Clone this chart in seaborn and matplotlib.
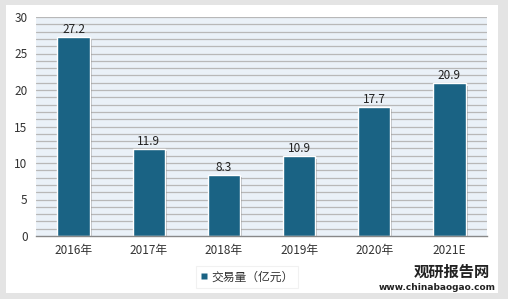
import matplotlib
matplotlib.use("Agg")
import matplotlib.pyplot as plt
import matplotlib.patheffects as pe
from matplotlib.patches import Rectangle
from matplotlib.lines import Line2D
import seaborn as sns
import pandas as pd

years = ["2016年", "2017年", "2018年", "2019年", "2020年", "2021E"]
values = [27.2, 11.9, 8.3, 10.9, 17.7, 20.9]
series_name = "交易量（亿元）"
yticks = [0, 5, 10, 15, 20, 25, 30]

sns.set_theme(style="white")
plt.rcParams['font.family'] = ['Noto Sans CJK SC', 'DejaVu Sans']

df = pd.DataFrame({"year": years, "value": values})

fig = plt.figure(figsize=(5.08, 2.99), dpi=100, facecolor="#e4e4e4")
W, H = 508, 299
fig.patches.append(Rectangle((6 / W, 1 - 293 / H), (498 - 6) / W, (293 - 5) / H,
                             transform=fig.transFigure, facecolor="white",
                             edgecolor="none", zorder=-5))
ax = fig.add_axes([36 / W, 1 - 236 / H, (487 - 36) / W, (236 - 17) / H])
ax.set_zorder(2)
ax.set_facecolor("#eaf1f8")

bar_color = "#1a6384"
sns.barplot(data=df, x="year", y="value", color=bar_color, width=0.43,
            edgecolor="white", linewidth=1.0, ax=ax, zorder=3, saturation=1)
for p in ax.patches:
    p.set_path_effects([pe.SimplePatchShadow(offset=(1.5, -1.5), shadow_rgbFace="#555555", alpha=0.35), pe.Normal()])

for i, v in enumerate(values):
    ax.text(i, v + 0.15, f"{v}", ha="center", va="bottom", fontsize=8.5, color="#222222", zorder=4)

ax.set_ylim(0, 30)
ax.set_xlim(-0.5, len(years) - 0.5)
for y in range(1, 31):
    ax.axhline(y, color="#b8b8b8", linewidth=0.9, zorder=1)
ax.set_yticks(yticks)
ax.set_yticklabels([str(t) for t in yticks], fontsize=8.5, color="#333333")
ax.tick_params(axis="x", labelsize=8.5, colors="#333333", length=0, pad=6)
ax.tick_params(axis="y", length=0, pad=6)
ax.set_xlabel("")
ax.set_ylabel("")
for s in ["top", "right", "left"]:
    ax.spines[s].set_visible(False)
ax.spines["bottom"].set_color("#888888")
ax.spines["bottom"].set_linewidth(1.0)
ax.spines["bottom"].set_zorder(5)

handles = [Line2D([], [], marker="s", linestyle="none", markersize=4,
                  markerfacecolor=bar_color, markeredgecolor="none", label=series_name)]
leg = fig.legend(handles=handles, loc="center", bbox_to_anchor=(247 / W, 1 - 277 / H),
                 fontsize=8.5, frameon=True, fancybox=False, handlelength=0.6,
                 handletextpad=0.3, borderpad=0.4)
leg.get_frame().set_edgecolor("#eeeeee")
leg.get_frame().set_linewidth(0.8)
for t in leg.get_texts():
    t.set_color("#333333")

fig.text(452 / W, 1 - 272 / H, "观研报告网", fontsize=11, fontweight="bold",
         color="#222222", ha="center", va="center")
fig.text(437 / W, 1 - 288 / H, "www.chinabaogao.com", fontsize=6.5, fontweight="bold",
         color="#222222", ha="center", va="center", family=["DejaVu Sans"])

fig.savefig("out.png", dpi=100, facecolor=fig.get_facecolor())
